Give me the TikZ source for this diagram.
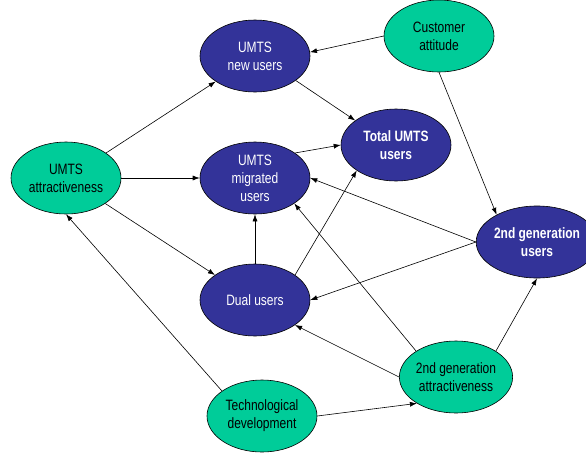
\documentclass[tikz,border=0pt]{standalone}
\usepackage{fontspec}
\setmainfont{Liberation Sans}[FakeStretch=0.8]
\usetikzlibrary{arrows.meta,shapes.geometric}
\definecolor{umtsblue}{RGB}{51,51,153}
\definecolor{umtsgreen}{RGB}{0,204,153}

\begin{document}
\begin{tikzpicture}[
  x=1pt, y=-1pt,
  factor/.style={ellipse, draw=black, line width=0.6pt, minimum width=110pt, minimum height=72pt, inner sep=0pt, align=center, font=\fontsize{15}{18}\selectfont},
  stock/.style={factor, fill=umtsblue, text=white},
  driver/.style={factor, fill=umtsgreen, text=black},
  arrow/.style={-{Latex[length=7pt,width=5pt]}, line width=0.6pt}
]
  \clip (0,0) rectangle (586,453);
  % stocks of users
  \node[stock] (newusers) at (255,56) {UMTS\\new users};
  \node[stock] (migrated) at (255,178) {UMTS\\migrated\\users};
  \node[stock] (dual) at (255,300) {Dual users};
  \node[stock, font=\fontsize{15}{18}\selectfont\bfseries] (total) at (396,145) {Total UMTS\\users};
  \node[stock, font=\fontsize{15}{18}\selectfont\bfseries] (gsmusers) at (537,242) {2nd generation\\users};

  % drivers
  \node[driver] (customer) at (439,36) {Customer\\attitude};
  \node[driver] (umtsattr) at (66,178) {UMTS\\attractiveness};
  \node[driver] (gsmattr) at (456,377) {2nd generation\\attractiveness};
  \node[driver] (techdev) at (262,416) {Technological\\development};

  \draw[arrow] (customer.west) -- (newusers.4);
  \draw[arrow] (customer.south) -- (gsmusers.146);
  \draw[arrow] (newusers.-31) -- (total.149);
  \draw[arrow] (umtsattr.32) -- (newusers.213);
  \draw[arrow] (umtsattr.east) -- (migrated.west);
  \draw[arrow] (umtsattr.-33) -- (dual.148);
  \draw[arrow] (migrated.32) -- (total.west);
  \draw[arrow] (dual.32) -- (total.213);
  \draw[arrow] (dual.north) -- (migrated.south);
  \draw[arrow] (gsmusers.west) -- (migrated.east);
  \draw[arrow] (gsmusers.west) -- (dual.east);
  \draw[arrow] (gsmattr.147) -- (migrated.-33);
  \draw[arrow] (gsmattr.west) -- (dual.-32);
  \draw[arrow] (gsmattr.33) -- (gsmusers.south);
  \draw[arrow] (techdev.148) -- (umtsattr.south);
  \draw[arrow] (techdev.east) -- (gsmattr.214);
\end{tikzpicture}
\end{document}
